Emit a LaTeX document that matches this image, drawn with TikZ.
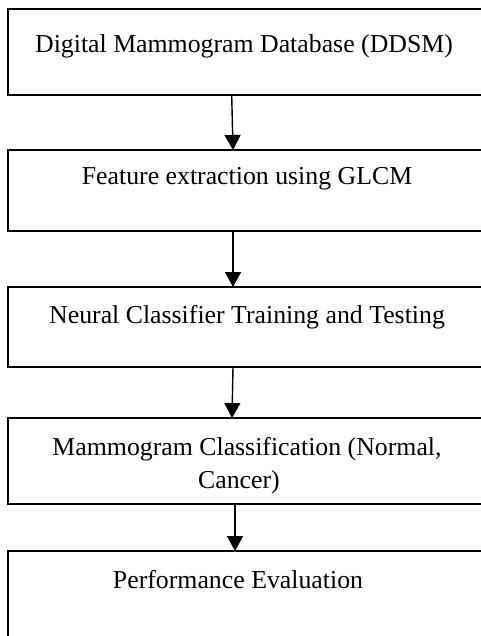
\documentclass[tikz,border=0pt]{standalone}
\usepackage{fontspec}
\setmainfont{Liberation Serif}
\usetikzlibrary{arrows.meta}
\begin{document}
\begin{tikzpicture}[x=1pt,y=1pt,
  box/.style={draw=black, line width=2pt, rectangle, minimum width=477pt, inner sep=0pt, outer sep=0pt, anchor=north west},
  lbl/.style={anchor=base, inner sep=0pt, font=\fontsize{25.8pt}{33pt}\selectfont},
  arr/.style={draw=black, line width=1.4pt, -{Triangle[width=16pt,length=15pt]}}]
\useasboundingbox[fill=white] (0,0) rectangle (481,-636);
\node[box, minimum height=86pt] (b1) at (7.5,-9) {};
\node[box, minimum height=81pt] (b2) at (7.5,-150) {};
\node[box, minimum height=80pt] (b3) at (7.5,-287) {};
\node[box, minimum height=86pt] (b4) at (7.5,-418) {};
\node[box, minimum height=110pt] (b5) at (7.5,-551) {};
\node[lbl] (t1) at (244,-53) {Digital Mammogram Database (DDSM)};
\node[lbl] (t2) at (247,-185) {Feature extraction using GLCM};
\node[lbl] (t3) at (247,-323) {Neural Classifier Training and Testing};
\node[lbl] (t4a) at (247,-455) {Mammogram Classification (Normal,};
\node[lbl] (t4b) at (239,-488) {Cancer)};
\node[lbl] (t5) at (238,-588) {Performance Evaluation};
\draw[arr] ([xshift=224.2pt]b1.south west) -- ([xshift=225.5pt]b2.north west);
\draw[arr] ([xshift=225.5pt]b2.south west) -- ([xshift=225.5pt]b3.north west);
\draw[arr] ([xshift=225.5pt]b3.south west) -- ([xshift=224.5pt]b4.north west);
\draw[arr] ([xshift=227.5pt]b4.south west) -- ([xshift=227.5pt]b5.north west);
\end{tikzpicture}
\end{document}
